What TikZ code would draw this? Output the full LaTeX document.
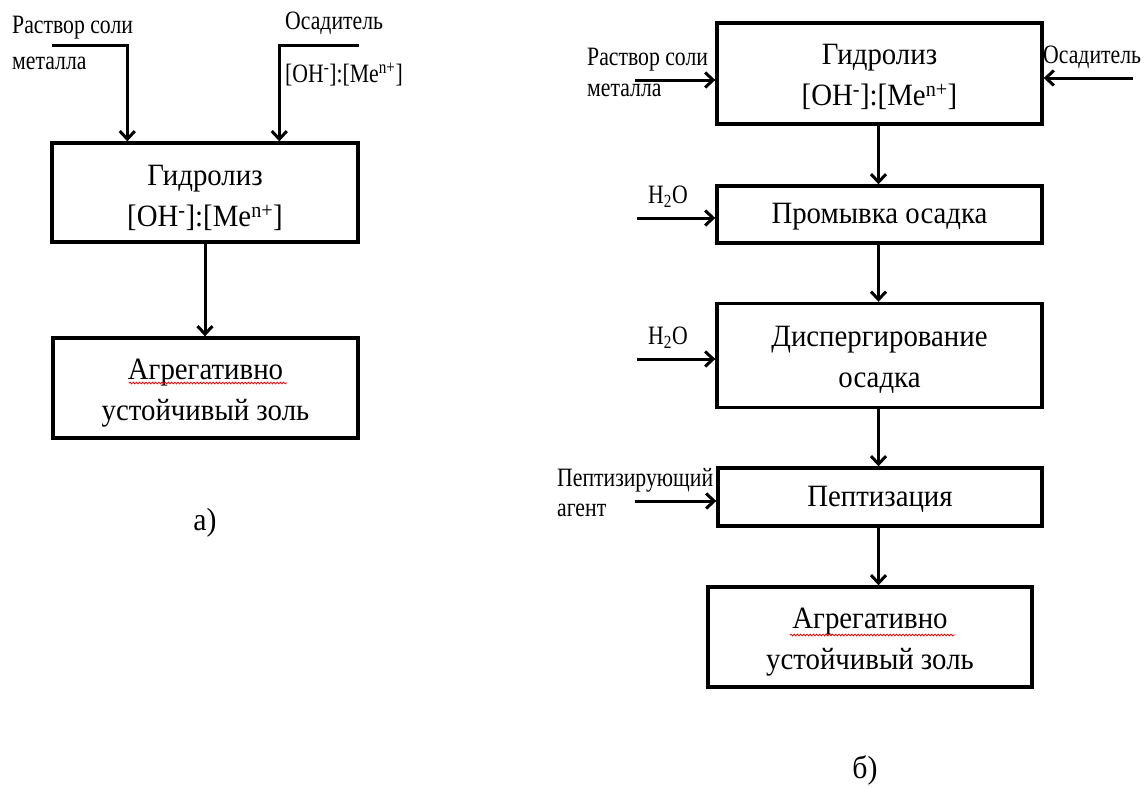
\documentclass[tikz,border=0pt]{standalone}
\usepackage{fontspec}
\setmainfont{Liberation Serif}
\newfontfamily\mainf[FakeStretch=0.93]{Liberation Serif}
\newfontfamily\labf[FakeStretch=0.82]{Liberation Serif}
\usetikzlibrary{arrows.meta,decorations.pathmorphing}
\tikzset{
  box/.style={draw=black, line width=3.4pt, inner sep=0pt},
  boxtext/.style={inner sep=0pt, align=center, font=\mainf\fontsize{31}{41}\selectfont},
  arr/.style={line width=3pt, -{Straight Barb[length=8pt,width=15pt,line width=3pt]}},
  lab/.style={inner sep=0pt, anchor=west, font=\labf\fontsize{26.5}{30}\selectfont},
  figcap/.style={inner sep=0pt, font=\mainf\fontsize{32}{35}\selectfont},
  wavy/.style={red, line width=0.8pt, decorate, decoration={snake, segment length=3.2pt, amplitude=0.9pt}}
}
\begin{document}
\begin{tikzpicture}[x=1pt, y=-1pt]
\useasboundingbox (0,0) rectangle (1144,787);
\fill[white] (0,0) rectangle (1144,787);

% ---------- a) ----------
\node[box, minimum width=306pt, minimum height=99pt] (a1) at (205,192.5) {};
\node[boxtext] (a1t) at ([yshift=-5pt]a1.center)
  {Гидролиз\\{}[OH\textsuperscript{-}]:[Me\textsuperscript{n+}]};
\node[box, minimum width=305pt, minimum height=100pt] (a2) at (205.5,388) {};
\node[boxtext] (a2t) at ([yshift=-5pt]a2.center) {Агрегативно\\устойчивый золь};
\draw[wavy] (129,383) -- (287,383);

\node[lab] (la1) at (12,28) {Раствор соли};
\node[lab] (la2) at (12,63) {металла};
\node[lab] (la3) at (285,23) {Осадитель};
\node[lab] (la4) at (285,75) {[OH\textsuperscript{-}]:[Me\textsuperscript{n+}]};

\coordinate (sa1) at (52,45);
\coordinate (sa2) at (359,45);
\draw[arr] (sa1) -| ([xshift=77pt]a1.north west);
\draw[arr] (sa2) -| ([xshift=229pt]a1.north west);
\draw[arr] (a1.south) -- (a1.south |- a2.north);

\node[figcap] (ca) at (205,523) {а)};

% ---------- б) ----------
\node[box, minimum width=325pt, minimum height=101pt] (b1) at (879.5,73.5) {};
\node[boxtext] (b1t) at ([yshift=-3pt]b1.center)
  {Гидролиз\\{}[OH\textsuperscript{-}]:[Me\textsuperscript{n+}]};
\node[box, minimum width=325pt, minimum height=57pt] (b2) at (879.5,214.5) {};
\node[boxtext] (b2t) at ([yshift=-2pt]b2.center) {Промывка осадка};
\node[box, minimum width=325pt, minimum height=104pt] (b3) at (879.5,355.5) {};
\node[boxtext] (b3t) at ([yshift=-4pt]b3.center) {Диспергирование\\осадка};
\node[box, minimum width=324pt, minimum height=58pt] (b4) at (880,497) {};
\node[boxtext] (b4t) at ([yshift=-2pt]b4.center) {Пептизация};
\node[box, minimum width=324pt, minimum height=100pt] (b5) at (870,637) {};
\node[boxtext] (b5t) at ([yshift=-5pt]b5.center) {Агрегативно\\устойчивый золь};
\draw[wavy] (790,635) -- (955,635);

\node[lab] (lb1) at (587,60) {Раствор соли};
\node[lab] (lb2) at (587,90) {металла};
\node[lab] (lb3) at (1043,57) {Осадитель};
\node[lab] (lb4) at (648,197) {H\textsubscript{2}O};
\node[lab] (lb5) at (648,338) {H\textsubscript{2}O};
\node[lab] (lb6) at (557,480) {Пептизирующий};
\node[lab] (lb7) at (557,510) {агент};

\coordinate (sb1) at (635,80);
\coordinate (sb2) at (1133,78);
\coordinate (sb3) at (637,218);
\coordinate (sb4) at (637,359);
\coordinate (sb5) at (635,501);
\draw[arr] (sb1) -- (sb1 -| b1.west);
\draw[arr] (sb2) -- (sb2 -| b1.east);
\draw[arr] (sb3) -- (sb3 -| b2.west);
\draw[arr] (sb4) -- (sb4 -| b3.west);
\draw[arr] (sb5) -- (sb5 -| b4.west);

\draw[arr] ([xshift=-1pt]b1.south) -- ([xshift=-1pt]b1.south |- b2.north);
\draw[arr] ([xshift=-1pt]b2.south) -- ([xshift=-1pt]b2.south |- b3.north);
\draw[arr] ([xshift=-1pt]b3.south) -- ([xshift=-1pt]b3.south |- b4.north);
\draw[arr] ([xshift=-1.5pt]b4.south) -- ([xshift=-1.5pt]b4.south |- b5.north);

\node[figcap] (cb) at (865,770) {б)};
\end{tikzpicture}
\end{document}
